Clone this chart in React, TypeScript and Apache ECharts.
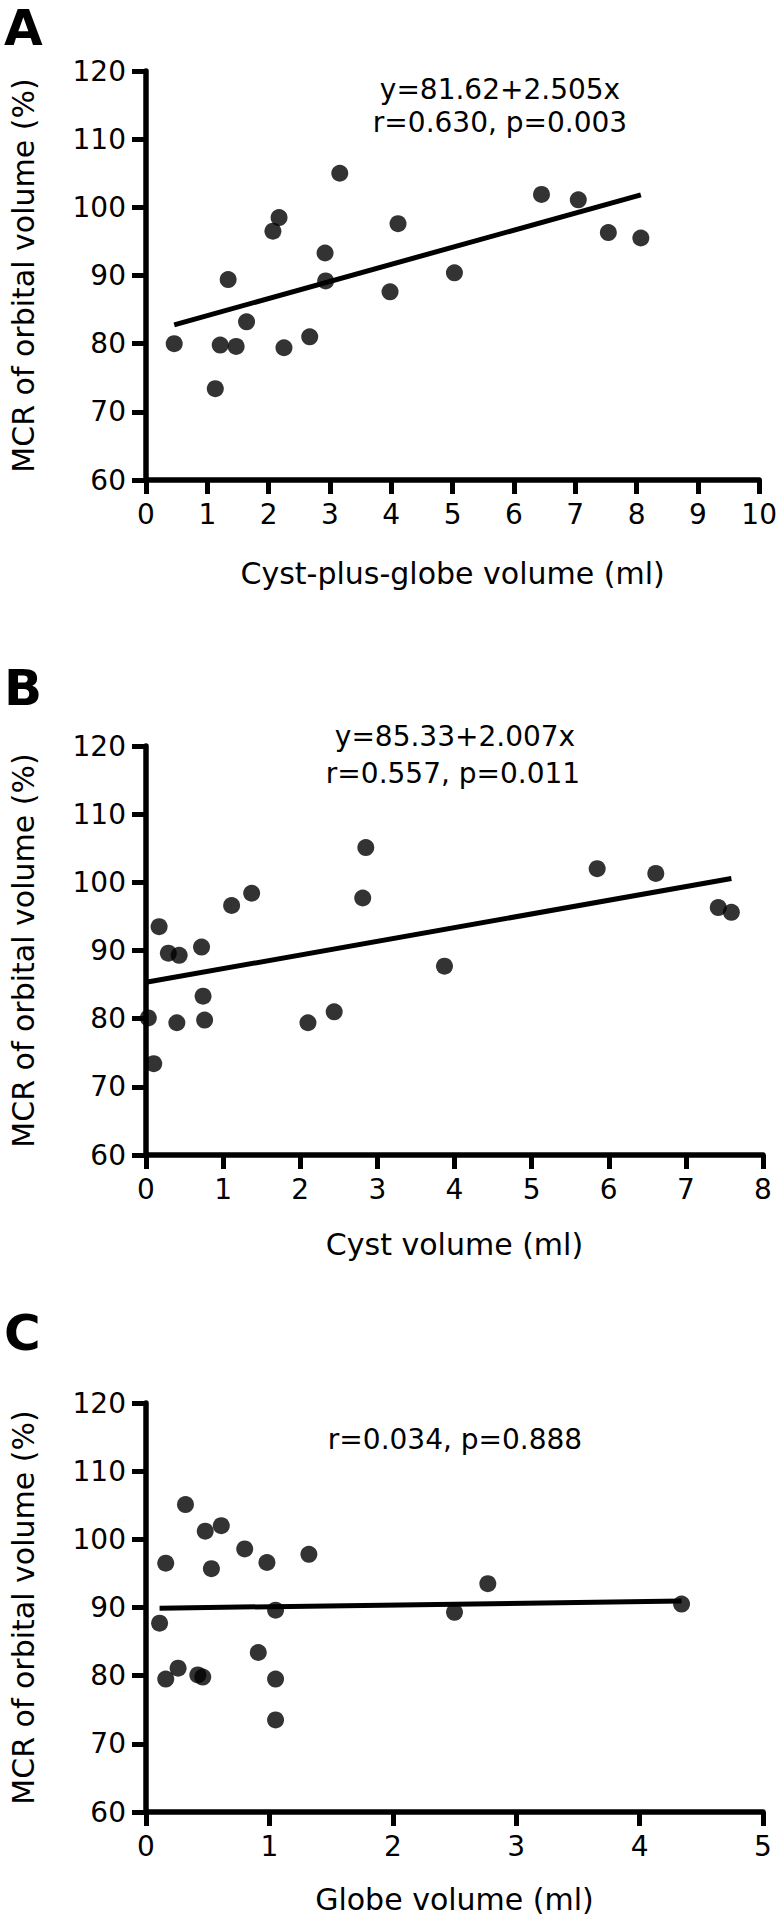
import React, { useEffect, useRef } from "react";
import * as echarts from "echarts";

const FONT = "DejaVu Sans";

// Panel A: cyst-plus-globe volume (ml) vs MCR of orbital volume (%)
const A_X = [0.46, 1.13, 1.21, 1.34, 1.47, 1.64, 2.07, 2.17, 2.25, 2.67, 2.92, 2.93, 3.16, 3.98, 4.11, 5.03, 6.45, 7.05, 7.54, 8.07];
const A_Y = [80.0, 73.4, 79.8, 89.4, 79.6, 83.2, 96.5, 98.5, 79.4, 81.0, 93.3, 89.2, 105.0, 87.6, 97.6, 90.4, 101.9, 101.1, 96.3, 95.5];
const A_FIT = [[0.46, 82.77], [8.07, 101.84]];

// Panel B: cyst volume (ml)
const B_X = [0.03, 0.10, 0.17, 0.29, 0.43, 0.40, 0.72, 0.74, 0.76, 1.11, 1.37, 2.10, 2.44, 2.81, 2.85, 3.87, 5.85, 6.61, 7.42, 7.59];
const B_Y = [80.1, 73.4, 93.5, 89.6, 89.3, 79.4, 90.5, 83.3, 79.8, 96.6, 98.4, 79.4, 81.0, 97.7, 105.1, 87.7, 102.0, 101.3, 96.3, 95.6];
const B_FIT = [[0, 85.33], [7.59, 100.56]];

// Panel C: globe volume (ml)
const C_X = [0.11, 0.16, 0.16, 0.26, 0.32, 0.42, 0.46, 0.48, 0.53, 0.61, 0.80, 0.91, 0.98, 1.05, 1.05, 1.05, 1.32, 2.50, 2.77, 4.34];
const C_Y = [87.7, 96.5, 79.5, 81.1, 105.1, 80.1, 79.8, 101.2, 95.7, 102.0, 98.6, 83.4, 96.6, 89.6, 79.5, 73.5, 97.8, 89.3, 93.5, 90.5];
const C_FIT = [[0.11, 89.9], [4.34, 90.95]];

const PANEL_LETTERS = ["A", "B", "C"];
const X_TITLES = ["Cyst-plus-globe volume (ml)", "Cyst volume (ml)", "Globe volume (ml)"];
const X_MAX = [10, 8, 5];
const Y_TITLE = "MCR of orbital volume (%)";
const Y_MIN = 60;
const Y_MAX = 120;
const Y_STEP = 10;
const STATS_A = ["y=81.62+2.505x", "r=0.630, p=0.003"];
const STATS_B = ["y=85.33+2.007x", "r=0.557, p=0.011"];
const STATS_C = ["r=0.034, p=0.888"];

const zip = (xs: number[], ys: number[]) => xs.map((x, i) => [x, ys[i]]);

const axisLine = { show: true, lineStyle: { color: "#000", width: 5.5 } };
const axisTick = { show: true, length: 14, lineStyle: { color: "#000", width: 5 } };

function makeX(i: number, nameGap: number) {
  return {
    type: "value",
    gridIndex: i,
    min: 0,
    max: X_MAX[i],
    interval: 1,
    axisLine,
    axisTick,
    splitLine: { show: false },
    axisLabel: { color: "#000", fontFamily: FONT, fontSize: 28, margin: 20 },
    name: X_TITLES[i],
    nameLocation: "middle",
    nameGap,
    nameTextStyle: { color: "#000", fontFamily: FONT, fontSize: 30 },
  };
}

function makeY(i: number) {
  return {
    type: "value",
    gridIndex: i,
    min: Y_MIN,
    max: Y_MAX,
    interval: Y_STEP,
    axisLine,
    axisTick,
    splitLine: { show: false },
    axisLabel: { color: "#000", fontFamily: FONT, fontSize: 28, margin: 20 },
    name: Y_TITLE,
    nameLocation: "middle",
    nameGap: 108,
    nameRotate: 90,
    nameTextStyle: { color: "#000", fontFamily: FONT, fontSize: 30 },
  };
}

function scatter(i: number, data: number[][]) {
  return {
    type: "scatter",
    xAxisIndex: i,
    yAxisIndex: i,
    data,
    symbol: "circle",
    symbolSize: 17,
    itemStyle: { color: "#000" },
    z: 3,
  };
}

function fit(i: number, data: number[][]) {
  return {
    type: "line",
    xAxisIndex: i,
    yAxisIndex: i,
    data,
    symbol: "none",
    lineStyle: { color: "#000", width: 5 },
    z: 2,
  };
}

function txt(text: string, x: number, y: number, font: string, align = "center", vAlign = "middle") {
  return {
    type: "text",
    x,
    y,
    style: {
      text,
      fill: "#000",
      font,
      align,
      verticalAlign: vAlign,
      textAlign: align,
      textVerticalAlign: vAlign,
    },
  };
}

const statFont = `28px "${FONT}"`;
const letterFont = `bold 50px "${FONT}"`;

const option = {
  animation: false,
  backgroundColor: "#fff",
  grid: [
    { left: 146, right: 16, top: 71, height: 409 },
    { left: 146, right: 17, top: 746, height: 409 },
    { left: 146, right: 17, top: 1403, height: 409 },
  ],
  xAxis: [makeX(0, 78), makeX(1, 74), makeX(2, 72)],
  yAxis: [makeY(0), makeY(1), makeY(2)],
  series: [
    fit(0, A_FIT),
    scatter(0, zip(A_X, A_Y)),
    fit(1, B_FIT),
    scatter(1, zip(B_X, B_Y)),
    fit(2, C_FIT),
    scatter(2, zip(C_X, C_Y)),
  ],
  graphic: [
    txt(PANEL_LETTERS[0], 4, 3, letterFont, "left", "top"),
    txt(PANEL_LETTERS[1], 4, 688, letterFont, "left"),
    txt(PANEL_LETTERS[2], 4, 1333, letterFont, "left"),
    txt(STATS_A[0], 500, 89, statFont),
    txt(STATS_A[1], 500, 122, statFont),
    txt(STATS_B[0], 455, 736, statFont),
    txt(STATS_B[1], 453, 773, statFont),
    txt(STATS_C[0], 455, 1439, statFont),
  ],
};

export default function App() {
  const ref = useRef<HTMLDivElement>(null);
  useEffect(() => {
    if (!ref.current) return;
    const chart = echarts.init(ref.current, null, { renderer: "svg" });
    chart.setOption(option as any);
    return () => chart.dispose();
  }, []);
  return (
    <div
      ref={ref}
      style={{ position: "absolute", left: 0, top: 0, width: 780, height: 1921, background: "#fff" }}
    />
  );
}
